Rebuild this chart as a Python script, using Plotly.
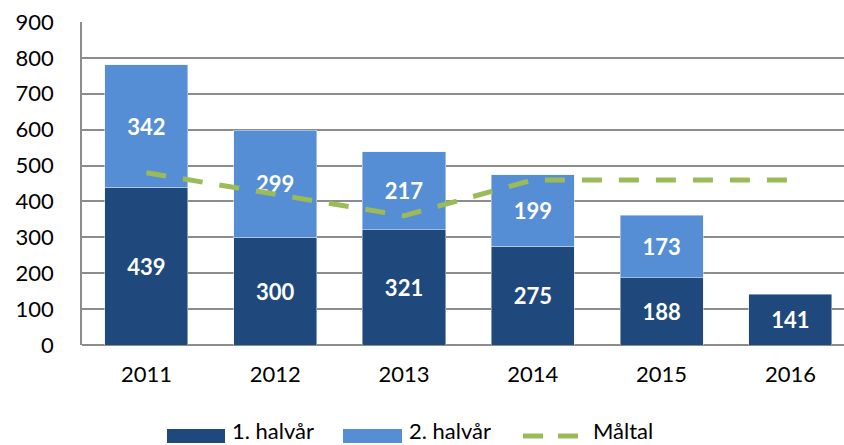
import plotly.graph_objects as go

years = ["2011", "2012", "2013", "2014", "2015", "2016"]
first_half = [439, 300, 321, 275, 188, 141]
second_half = [342, 299, 217, 199, 173, None]
target = [480, 420, 360, 460, 460, 460]
y_ticks = [0, 100, 200, 300, 400, 500, 600, 700, 800, 900]
series_names = ["1. halvår", "2. halvår", "Måltal"]

DARK = "#1F497D"
LIGHT = "#558ED5"
GREEN = "#9BBB59"
FONT = "Lato"

W, H = 844, 445
L, R, T, B = 82, 0, 22, 100
PW, PH = W - L - R, H - T - B


def px_x(p):
    return (p - L) / PW


def px_y(p):
    return (H - B - p) / PH


fig = go.Figure()
fig.add_trace(go.Bar(
    x=years, y=first_half, name=series_names[0], marker_color=DARK,
    text=[str(v) for v in first_half], textposition="inside",
    insidetextanchor="middle", constraintext="none",
    textfont=dict(family=FONT, size=22, color="white", weight="bold"),
))
fig.add_trace(go.Bar(
    x=years, y=second_half, name=series_names[1], marker_color=LIGHT,
    text=[("" if v is None else str(v)) for v in second_half], textposition="inside",
    insidetextanchor="middle", constraintext="none",
    textfont=dict(family=FONT, size=22, color="white", weight="bold"),
))
fig.add_trace(go.Scatter(
    x=years, y=target, name=series_names[2], mode="lines",
    line=dict(color=GREEN, width=5, dash="20px,17px"),
))

# legend drawn as swatches + text below the plot
shapes = [
    dict(type="rect", xref="paper", yref="paper", x0=px_x(167), x1=px_x(225),
         y0=px_y(443), y1=px_y(429), fillcolor=DARK, line_width=0, layer="above"),
    dict(type="rect", xref="paper", yref="paper", x0=px_x(343), x1=px_x(402),
         y0=px_y(443), y1=px_y(429), fillcolor=LIGHT, line_width=0, layer="above"),
    dict(type="line", xref="paper", yref="paper", x0=px_x(523), x1=px_x(543),
         y0=px_y(436), y1=px_y(436), line=dict(color=GREEN, width=5)),
    dict(type="line", xref="paper", yref="paper", x0=px_x(558), x1=px_x(578),
         y0=px_y(436), y1=px_y(436), line=dict(color=GREEN, width=5)),
]
annotations = [
    dict(xref="paper", yref="paper", x=px_x(x0), y=px_y(445), text=t, showarrow=False,
         xanchor="left", yanchor="bottom", borderpad=0,
         font=dict(family=FONT, size=22, color="black"))
    for x0, t in zip([231, 408, 592], series_names)
]

fig.update_layout(
    barmode="stack",
    bargap=0.355,
    width=W, height=H,
    margin=dict(l=L, r=R, t=T, b=B, autoexpand=False),
    paper_bgcolor="white", plot_bgcolor="white",
    font=dict(family=FONT, size=22, color="black"),
    showlegend=False,
    shapes=shapes,
    annotations=annotations,
)
fig.update_xaxes(
    type="category", range=[-0.5, 5.416], automargin=False,
    showline=False, showgrid=False, ticks="", ticklabelstandoff=14,
    tickfont=dict(family=FONT, size=22, color="black"),
)
fig.update_yaxes(
    range=[0, 900], tickvals=y_ticks, automargin=False,
    showgrid=True, gridcolor="#8C8C8C", gridwidth=1.5,
    showline=True, linecolor="#8C8C8C", linewidth=1.5,
    zeroline=True, zerolinecolor="#8C8C8C", zerolinewidth=1.5,
    ticks="", ticklabelstandoff=22,
    tickfont=dict(family=FONT, size=22, color="black"),
)

fig.write_html(
    "out.html",
    config={"displayModeBar": False},
    post_script="document.body.style.margin='0px';document.body.style.overflow='hidden';",
)
